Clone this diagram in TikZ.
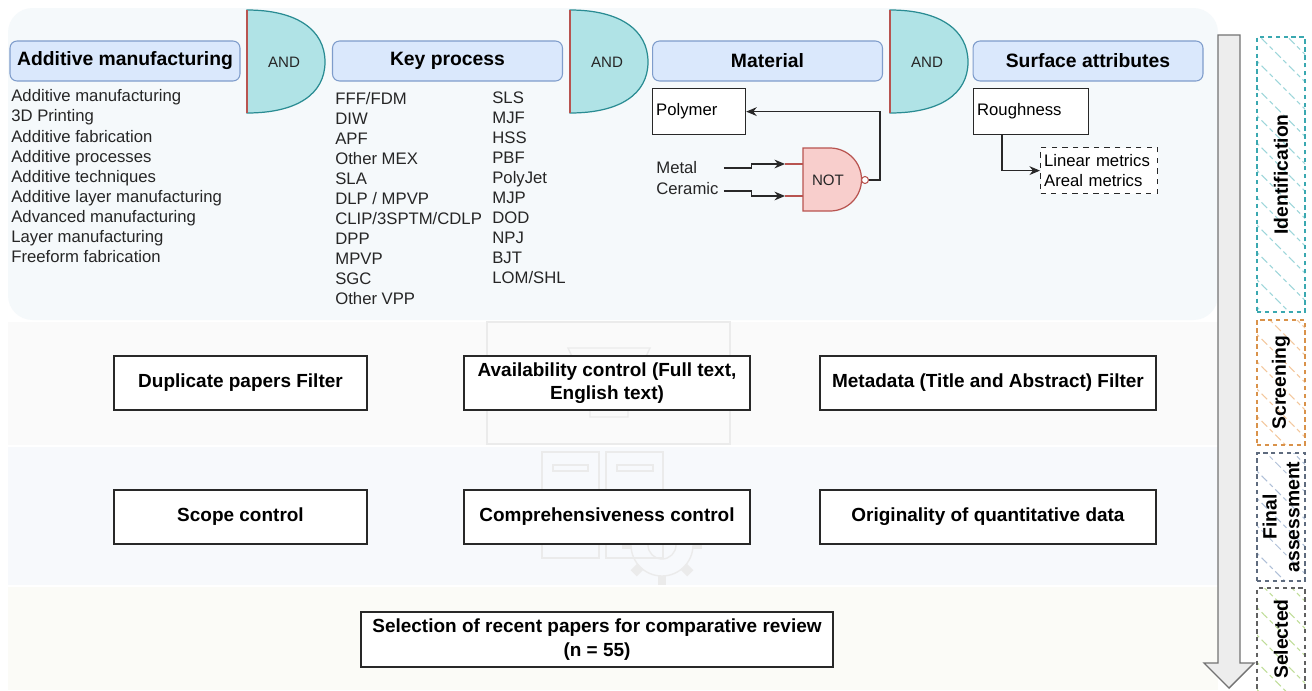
\documentclass[tikz,border=0pt]{standalone}
\usepackage{fontspec}
\setmainfont{Liberation Sans}
\usepackage{tikz}
\usetikzlibrary{arrows.meta,calc,patterns.meta}
\definecolor{figline}{RGB}{40,40,40}
\definecolor{hdrfill}{HTML}{DAE8FC}
\definecolor{hdrline}{HTML}{7E9CCB}
\definecolor{andfill}{HTML}{B0E3E6}
\definecolor{andline}{HTML}{2A8C93}
\definecolor{notfill}{HTML}{F8CECC}
\definecolor{notline}{HTML}{B85450}
\definecolor{bandid}{HTML}{F5F9FB}
\definecolor{bandsc}{HTML}{FAFAFA}
\definecolor{bandfa}{HTML}{F7F9FC}
\definecolor{bandse}{HTML}{FBFBF7}
\definecolor{wmark}{HTML}{EBEBEB}
\definecolor{idline}{HTML}{3AA8B0}
\definecolor{idhatch}{HTML}{9CD6DA}
\definecolor{scline}{HTML}{D9924A}
\definecolor{schatch}{HTML}{F3C79C}
\definecolor{faline}{HTML}{5E6B7E}
\definecolor{fahatch}{HTML}{AFC0D8}
\definecolor{seline}{HTML}{606060}
\definecolor{sehatch}{HTML}{BFDD98}
\newcommand{\fhead}{\fontsize{11}{13}\selectfont\bfseries}
\newcommand{\fstep}{\fontsize{10.8}{13.2}\selectfont\bfseries}
\newcommand{\flist}{\fontsize{9.5}{11.4}\selectfont}
\newcommand{\fgate}{\fontsize{8.6}{10}\selectfont}
\tikzset{
  hdr/.style     ={draw=hdrline, fill=hdrfill, rounded corners=4pt, line width=0.6pt,
                   minimum width=4.6cm, minimum height=0.8cm, font=\fhead},
  stepbox/.style ={draw=figline, fill=white, line width=0.7pt, minimum height=1.08cm,
                   align=center, font=\fstep},
  termbox/.style ={draw=figline, fill=white, line width=0.7pt, minimum height=0.92cm,
                   align=left, font=\flist, inner sep=2pt},
  listtxt/.style ={align=left, inner sep=0pt, font=\flist, text=black!85},
  gatetxt/.style ={font=\fgate, inner sep=1pt, text=black!85},
  andgate/.style ={draw=andline, fill=andfill, line width=0.7pt},
  notgate/.style ={draw=notline, fill=notfill, line width=0.7pt},
  pin/.style     ={draw=notline, line width=0.7pt},
  bubble/.style  ={circle, draw=notline, fill=white, line width=0.6pt, inner sep=0pt, minimum size=0.14cm},
  ptr/.style     ={draw=figline, line width=0.7pt, -{Stealth[length=6pt,width=5pt]}},
  wmk/.style     ={draw=wmark, line width=0.8pt},
  phasebox/.style={line width=0.8pt, dash pattern=on 2.5pt off 2pt, minimum width=0.96cm,
                   pattern={Lines[angle=-45,distance=11pt,line width=0.6pt]}},
  phaselab/.style={rotate=90, font=\fhead, align=center, inner sep=0pt},
}
\begin{document}
\begin{tikzpicture}[x=0.02cm,y=-0.02cm]
  \fill[white] (0,0) rectangle (1312,690);
  \useasboundingbox (0,0) rectangle (1312,690);
  % stage bands
  \fill[bandid, rounded corners=14pt] (8,8) rectangle (1218,320);
  \fill[bandsc] (8,322) rectangle (1218,445);
  \fill[bandfa] (8,447) rectangle (1218,585);
  \fill[bandse] (8,587) rectangle (1218,690);
  % faint watermark
  \draw[wmk] (487,322) rectangle (730,444);
  \draw[wmk] (568,348) -- (650,348) -- (628,395) -- (628,417) -- (590,417) -- (590,395) -- cycle;
  \draw[wmk] (542,452) rectangle (599,558);
  \draw[wmk] (606,452) rectangle (663,558);
  \draw[wmk] (553,465) rectangle (588,471);
  \draw[wmk] (617,465) rectangle (653,471);
  \draw[wmk] (553,537) rectangle (588,543);
  \draw[wmk] (662,545) circle[radius=14];
  \draw[wmk] (662,545) circle[radius=31];
  \foreach \a in {0,45,...,315}
    \draw[wmk, line width=5pt] ($(662,545)+(\a:31)$) -- ($(662,545)+(\a:40)$);
  % search string
  \node[hdr] (am) at (125,61) {Additive manufacturing};
  \node[hdr] (kp) at (447.5,61) {Key process};
  \node[hdr] (mat) at (767.5,61) {Material};
  \node[hdr] (surf) at (1088,61) {Surface attributes};
  \foreach \x in {247,570,890} {
    \draw[andgate] (\x,10) .. controls (\x+50,10) and (\x+78,30) .. (\x+78,62)
      .. controls (\x+78,94) and (\x+50,113) .. (\x,113) -- cycle;
    \draw[pin] (\x,10) -- (\x,113);
  }
  \node[gatetxt] (andA) at (284,62) {AND};
  \node[gatetxt] (andB) at (607,62) {AND};
  \node[gatetxt] (andC) at (927,62) {AND};
  \node[listtxt, anchor=north west] (amlist) at (11,89.5) {Additive manufacturing\\3D Printing\\Additive fabrication\\Additive processes\\Additive techniques\\Additive layer manufacturing\\Advanced manufacturing\\Layer manufacturing\\Freeform fabrication};
  \node[listtxt, anchor=north west] (kplistA) at (335,92) {FFF/FDM\\DIW\\APF\\Other MEX\\SLA\\DLP / MPVP\\CLIP/3SPTM/CDLP\\DPP\\MPVP\\SGC\\Other VPP};
  \node[listtxt, anchor=north west] (kplistB) at (492,91) {SLS\\MJF\\HSS\\PBF\\PolyJet\\MJP\\DOD\\NPJ\\BJT\\LOM/SHL};
  % material branch
  \node[termbox, anchor=north west, minimum width=1.86cm, text width=1.86cm-4pt] (poly) at (652,88) {Polymer};
  \node[listtxt, anchor=west] (metal) at (656,168) {Metal};
  \node[listtxt, anchor=west] (ceramic) at (656,189) {Ceramic};
  \draw[notgate] (803,148) -- (830,148) .. controls (847.4,148) and (861.5,162.1) .. (861.5,179.5)
    .. controls (861.5,196.9) and (847.4,211) .. (830,211) -- (803,211) -- cycle;
  \node[gatetxt] (notg) at (828,180) {NOT};
  \node[bubble] (bub) at (865,180) {};
  \coordinate (pinA) at (785,164);
  \coordinate (pinB) at (785,196);
  \draw[pin] (pinA) -- ++(18,0);
  \draw[pin] (pinB) -- ++(18,0);
  \draw[ptr] ($(ceramic.east |- metal.east)+(5,0)$) -- ++(28,0) |- (pinA);
  \draw[ptr] ($(ceramic.east)+(5,2)$) -- ++(28,0) |- (pinB);
  \draw[ptr] (bub.east) -- ++(11,0) |- (poly.east);
  % surface branch
  \node[termbox, anchor=north west, minimum width=2.3cm, text width=2.3cm-4pt] (rough) at (973,88) {Roughness};
  \node[termbox, dashed, anchor=north west, minimum width=2.34cm, text width=2.34cm-4pt] (metrics) at (1040,147) {Linear metrics\\Areal metrics};
  \draw[ptr] ($(rough.south west)+(29,0)$) |- (metrics.west);
  % screening
  \node[stepbox, minimum width=5.06cm] (dup) at (240.5,383) {Duplicate papers Filter};
  \node[stepbox, minimum width=5.72cm] (avail) at (607,383) {Availability control (Full text,\\English text)};
  \node[stepbox, minimum width=6.72cm] (meta) at (988,383) {Metadata (Title and Abstract) Filter};
  % final assessment
  \node[stepbox, minimum width=5.06cm] (scope) at (240.5,517) {Scope control};
  \node[stepbox, minimum width=5.72cm] (compr) at (607,517) {Comprehensiveness control};
  \node[stepbox, minimum width=6.72cm] (orig) at (988,517) {Originality of quantitative data};
  % selection
  \node[stepbox, minimum width=9.44cm, minimum height=1.1cm] (sel) at (597,639.5) {Selection of recent papers for comparative review\\(n = 55)};
  % flow arrow
  \draw[draw=black!55, fill=black!7, line width=0.8pt] (1218,35) -- (1240,35) -- (1240,663) -- (1254,663)
    -- (1229,688) -- (1204,663) -- (1218,663) -- cycle;
  % stage labels
  \node[phasebox, draw=idline, pattern color=idhatch, minimum height=5.5cm] (ident) at (1281,174.5) {};
  \node[phasebox, draw=scline, pattern color=schatch, minimum height=2.5cm] (screen) at (1281,382.5) {};
  \node[phasebox, draw=faline, pattern color=fahatch, minimum height=2.56cm] (final) at (1281,517) {};
  \node[phasebox, draw=seline, pattern color=sehatch, minimum height=2.16cm] (selected) at (1281,642) {};
  \node[phaselab] (identlab) at (ident) {Identification};
  \node[phaselab] (screenlab) at (screen) {Screening};
  \node[phaselab] (finallab) at (final) {Final\\assessment};
  \node[phaselab] (selectedlab) at (1281,639) {Selected};
\end{tikzpicture}
\end{document}
